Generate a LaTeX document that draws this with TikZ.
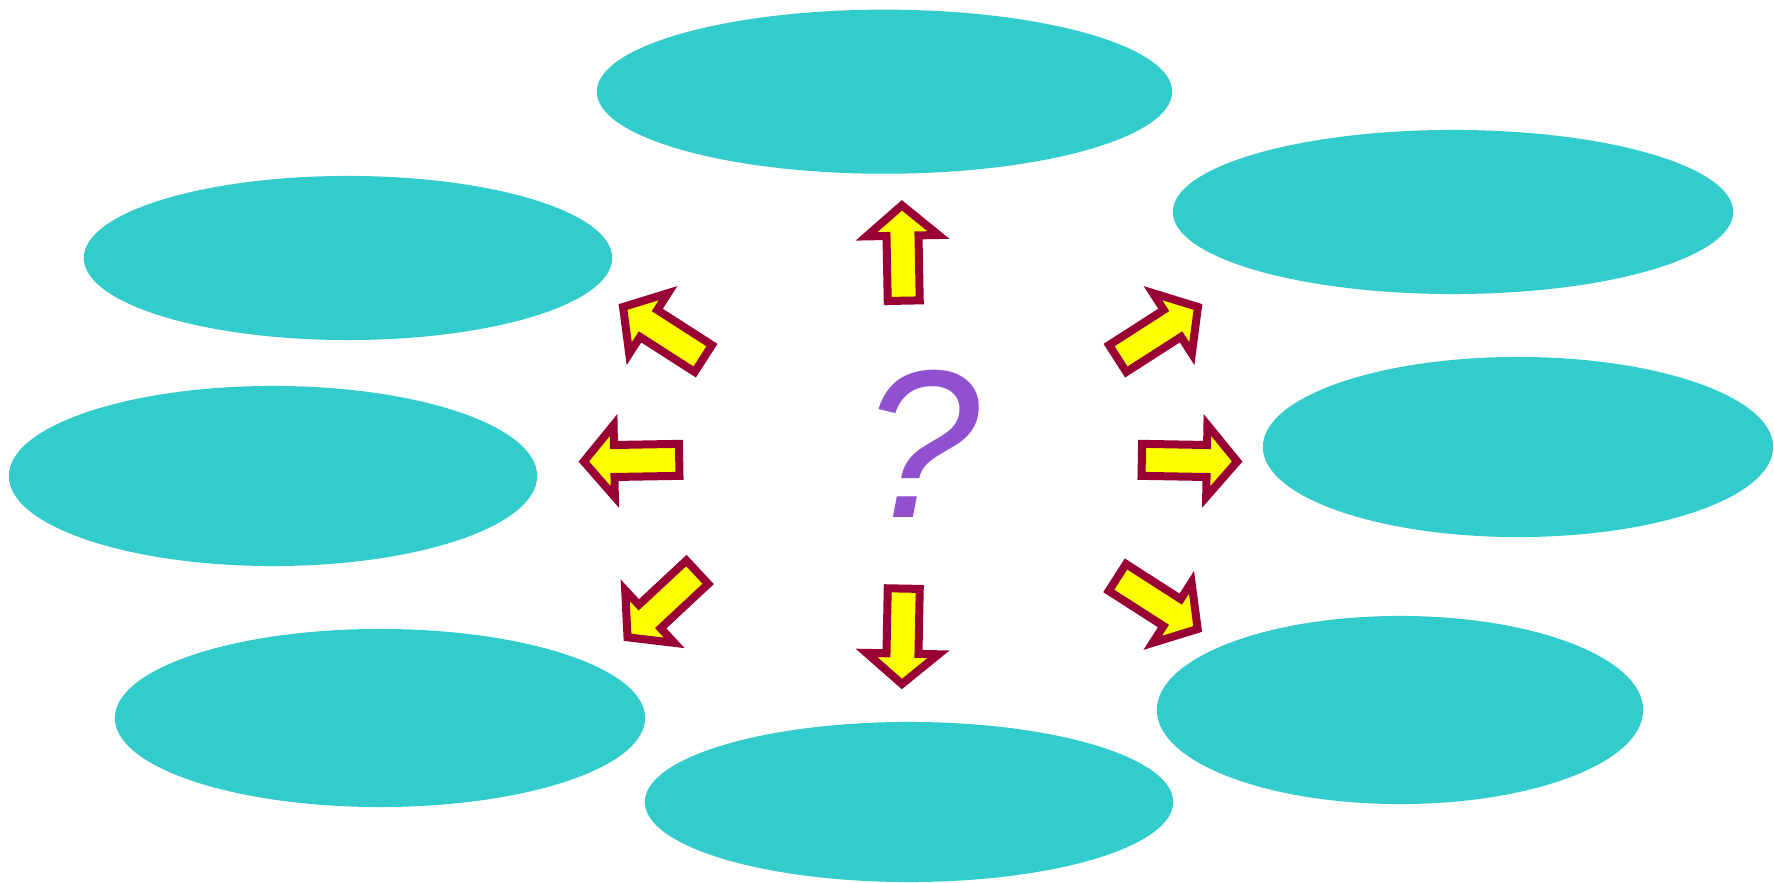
\documentclass[tikz,border=0pt]{standalone}
\usepackage{fontspec}
\usetikzlibrary{shapes.geometric}
\newfontfamily\qfont{Liberation Sans}
\newcommand{\qmarkfont}{\qfont\itshape\fontsize{60}{60}\selectfont}
\definecolor{tealfill}{HTML}{33CCCC}
\definecolor{ayellow}{HTML}{FFFF00}
\definecolor{aborder}{HTML}{990033}
\definecolor{qviolet}{HTML}{9050D0}
\tikzset{
  blob/.style={ellipse, fill=tealfill, draw=none, inner sep=0pt, outer sep=0pt},
  arrowbody/.style={fill=ayellow, draw=aborder, line width=0.08cm, line join=miter, miter limit=10},
  barrow/.pic={\path[arrowbody] (4,-16) -- (69,-16) -- (69,-36) -- (99.4,0) -- (69,36) -- (69,16) -- (4,16) -- cycle;},
  qmark/.style={inner sep=0pt, outer sep=0pt, font=\qmarkfont, text=qviolet}
}
\begin{document}
\begin{tikzpicture}[x=0.01cm, y=-0.01cm]
\useasboundingbox (0,0) rectangle (1774,883);
% ellipses
\node[blob, minimum width=5.75cm, minimum height=1.64cm] (e1) at (884.5,91.7) {};
\node[blob, minimum width=5.60cm, minimum height=1.64cm] (e2) at (1453,212) {};
\node[blob, minimum width=5.28cm, minimum height=1.64cm] (e3) at (348,258) {};
\node[blob, minimum width=5.10cm, minimum height=1.80cm] (e4) at (1518,447) {};
\node[blob, minimum width=5.28cm, minimum height=1.80cm] (e5) at (273,476) {};
\node[blob, minimum width=4.86cm, minimum height=1.88cm] (e6) at (1400,710) {};
\node[blob, minimum width=5.30cm, minimum height=1.78cm] (e7) at (380,718) {};
\node[blob, minimum width=5.28cm, minimum height=1.60cm] (e8) at (909,802) {};
% arrows
\pic[rotate=91.1] (aup) at (903.8,304.7) {barrow};
\pic[rotate=268.9] (adown) at (903.8,584.6) {barrow};
\pic[rotate=181] (aleft) at (683.2,459.8) {barrow};
\pic[rotate=-1] (aright) at (1137.8,459.8) {barrow};
\pic[rotate=147.3] (aul) at (706.7,360.7) {barrow};
\pic[rotate=32.7] (aur) at (1114.3,360.7) {barrow};
\pic[rotate=223] (all) at (700.2,569.5) {barrow};
\pic[rotate=-32.7] (alr) at (1114,575.3) {barrow};
% question mark
\node[qmark, anchor=base] (q) at (921,517.7) {?};
\end{tikzpicture}
\end{document}
